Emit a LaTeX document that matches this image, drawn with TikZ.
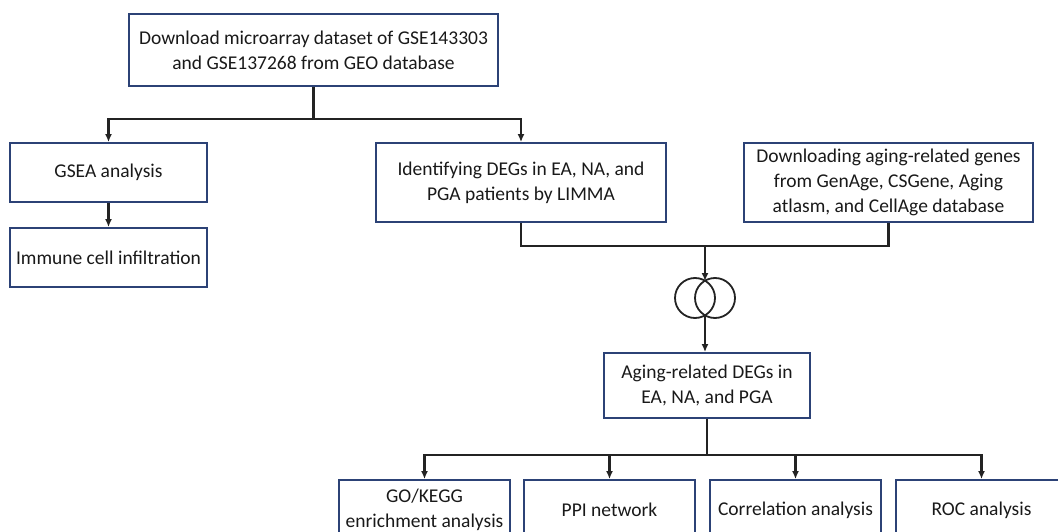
\documentclass[tikz,border=0pt]{standalone}
\usepackage{fontspec}
\setmainfont{Carlito}
\usetikzlibrary{arrows.meta,calc}
\definecolor{boxblue}{RGB}{44,66,118}
\definecolor{linegray}{RGB}{35,35,35}
\definecolor{textgray}{RGB}{25,25,25}

\begin{document}
\begin{tikzpicture}[x=1pt,y=-1pt,
  box/.style={draw=boxblue, line width=1.8pt, align=center, inner sep=2pt,
    text=textgray, font=\fontsize{19.5}{25}\selectfont},
  venn/.style={circle, draw=linegray, line width=1.8pt, minimum size=40pt, inner sep=0pt},
  link/.style={line width=2.2pt, draw=linegray},
  arr/.style={link, -{Latex[length=8pt,width=7pt]}}]
\useasboundingbox (0,0) rectangle (1058,532);

% boxes
\node[box, minimum width=369pt, minimum height=72pt] (geo) at (313.5,50)
  {Download microarray dataset of GSE143303\\and GSE137268 from GEO database};
\node[box, minimum width=197pt, minimum height=59pt] (gsea) at (108.5,172.5) {GSEA analysis};
\node[box, minimum width=197pt, minimum height=59pt] (immune) at (108.5,257.5) {Immune cell infiltration};
\node[box, minimum width=290pt, minimum height=79pt] (limma) at (521,182.5)
  {Identifying DEGs in EA, NA, and\\PGA patients by LIMMA};
\node[box, minimum width=289pt, minimum height=79pt] (genage) at (888.5,182.5)
  {Downloading aging-related genes\\from GenAge, CSGene, Aging\\atlasm, and CellAge database};
\node[box, minimum width=206pt, minimum height=65pt] (aging) at (707,385.5)
  {Aging-related DEGs in\\EA, NA, and PGA};
\foreach \n/\x/\t in {go/424.5/{GO/KEGG\\enrichment analysis},ppi/609.5/{PPI network},
    corr/795.5/{Correlation analysis},roc/981.5/{ROC analysis}}{
  \node[box, minimum width=171pt, minimum height=60pt] (\n) at (\x,510) {\t};}

% venn
\node[venn] (setA) at (695,298) {};
\node[venn] (setB) at (715,298) {};
\coordinate (vtop) at (705,281);
\coordinate (vbot) at (705,315);

% connectors
\draw[link] (geo.south) -- ++(0,32) coordinate (split1);
\draw[arr] (split1) -| (gsea.north);
\draw[arr] (split1) -| (limma.north);
\draw[arr] (gsea) -- (immune);
\draw[link] (limma.south) -- ++(0,23) -| (genage.south);
\coordinate (merge) at (705,245.5);
\draw[arr] (merge) -- (vtop);
\draw[arr] (vbot) -- (vbot |- aging.north);
\draw[link] (aging.south) -- ++(0,36) coordinate (split2);
\foreach \n in {go,ppi,corr,roc}{
\draw[arr] (split2) -| (\n.north);}
\end{tikzpicture}
\end{document}
